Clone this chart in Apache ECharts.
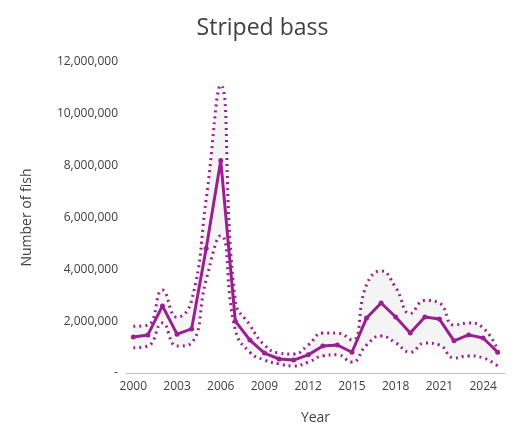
<!DOCTYPE html><html><head><meta charset="utf-8">
<script src="https://cdn.jsdelivr.net/npm/echarts@6/dist/echarts.min.js"></script>
<style>html,body{margin:0;background:#fff}#c{width:525px;height:441px}</style></head><body><div id="c"></div>
<script>
const years=[];for(let y=2000;y<=2025;y++)years.push(String(y));
const estimate=[1.39,1.47,2.59,1.5,1.7,4.8,8.2,2.0,1.27,0.77,0.54,0.5,0.7,1.04,1.08,0.8,2.12,2.7,2.16,1.54,2.16,2.08,1.24,1.47,1.35,0.8].map(v=>v*1e6);
const upper=[1.8,1.85,3.2,2.15,2.8,6.7,11.1,2.8,1.85,1.08,0.77,0.73,1.08,1.54,1.54,1.27,3.4,3.94,3.3,2.3,2.8,2.7,1.85,1.93,1.74,0.9].map(v=>v*1e6);
const lower=[0.97,1.04,1.93,1.04,1.16,3.6,5.3,1.66,0.8,0.5,0.35,0.27,0.42,0.66,0.7,0.42,1.08,1.43,1.16,0.8,1.16,1.08,0.58,0.66,0.58,0.27].map(v=>v*1e6);
const C='#9a1f8f';
const ch=echarts.init(document.getElementById('c'));
ch.setOption({
 title:{text:'Striped bass',left:'center',top:12,textStyle:{fontFamily:'Open Sans',fontSize:23,fontWeight:'normal',color:'#404040'}},
 grid:{left:126,right:20,top:62,bottom:68},
 xAxis:{type:'category',data:years,boundaryGap:true,name:'Year',nameLocation:'middle',nameGap:38,
  nameTextStyle:{fontFamily:'Open Sans',fontSize:14,color:'#404040'},
  axisLine:{lineStyle:{color:'#bfbfbf'}},axisTick:{show:false},
  axisLabel:{interval:2,color:'#404040',fontFamily:'Open Sans',fontSize:12}},
 yAxis:{type:'value',min:0,max:12e6,interval:2e6,name:'Number of fish',nameLocation:'middle',nameGap:92,
  nameTextStyle:{fontFamily:'Open Sans',fontSize:14,color:'#404040'},
  splitLine:{show:false},axisLine:{show:false},
  axisLabel:{color:'#404040',fontFamily:'Open Sans',fontSize:12,formatter:v=>v===0?'-':v.toLocaleString('en-US')}},
 series:[
  {type:'line',data:lower,stack:'b',smooth:true,symbol:'none',lineStyle:{opacity:0},areaStyle:{opacity:0}},
  {type:'line',data:upper.map((u,i)=>u-lower[i]),stack:'b',smooth:true,symbol:'none',lineStyle:{opacity:0},areaStyle:{color:'#efefef'}},
  {type:'line',data:upper,smooth:true,symbol:'none',lineStyle:{color:C,width:3,type:[2,4]}},
  {type:'line',data:lower,smooth:true,symbol:'none',lineStyle:{color:C,width:3,type:[2,4]}},
  {type:'line',data:estimate,symbol:'circle',symbolSize:5,itemStyle:{color:C},lineStyle:{color:C,width:3}}
 ]});
</script></body></html>
